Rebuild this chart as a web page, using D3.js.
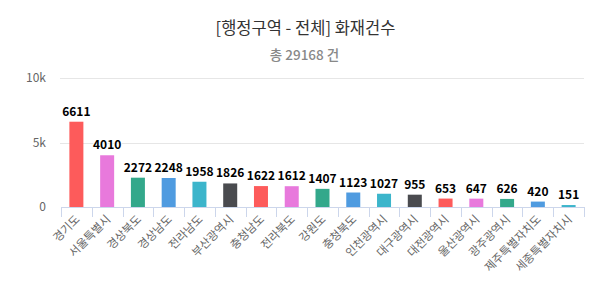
<!DOCTYPE html>
<html><head><meta charset="utf-8">
<script src="https://cdn.jsdelivr.net/npm/d3@7"></script>
<style>
body{margin:0;background:#fff;}
svg{display:block;font-family:"Noto Sans CJK KR","Noto Sans",sans-serif;}
</style></head>
<body>
<svg id="chart" width="607" height="308"></svg>
<script>
const categories = ["경기도","서울특별시","경상북도","경상남도","전라남도","부산광역시","충청남도","전라북도","강원도","충청북도","인천광역시","대구광역시","대전광역시","울산광역시","광주광역시","제주특별자치도","세종특별자치시"];
const values = [6611,4010,2272,2248,1958,1826,1622,1612,1407,1123,1027,955,653,647,626,420,151];
const palette = ["#fd5b5b","#e879dc","#33a88b","#4f9be0","#3cb5cb","#4a4b4f"];
const yTicks = [0,5000,10000];
const yTickLabels = ["0","5k","10k"];
const title = "[행정구역 - 전체] 화재건수";
const subtitle = "총 29168 건";

(function(){
const svg = d3.select("#chart");
const W = 607;
const pLeft = 61, pRight = 584, pTop = 78, pBottom = 207;

const x = d3.scaleBand().domain(categories).range([pLeft, pRight]).padding(0);
const y = d3.scaleLinear().domain([0, 10000]).range([pBottom, pTop]);
const barW = 14;

svg.append("text").attr("x", W/2 + 2).attr("y", 34).attr("text-anchor","middle")
  .attr("font-size", 16.5).attr("fill", "#333").text(title);
svg.append("text").attr("x", W/2 + 1).attr("y", 60).attr("text-anchor","middle")
  .attr("font-size", 13.5).attr("font-weight", 500).attr("fill", "#888").text(subtitle);

// grid
svg.append("g").selectAll("line").data(yTicks.filter(d => d > 0)).join("line")
  .attr("x1", pLeft - 1).attr("x2", pRight).attr("y1", d => Math.round(y(d)) + 0.5).attr("y2", d => Math.round(y(d)) + 0.5)
  .attr("stroke", "#e6e6e6").attr("stroke-width", 1);

// y labels
svg.append("g").selectAll("text").data(yTicks).join("text")
  .attr("x", 46).attr("y", d => y(d) + 4).attr("text-anchor", "end")
  .attr("font-size", 12).attr("fill", "#666").text((d, i) => yTickLabels[i]);

// bars
svg.append("g").selectAll("rect").data(values).join("rect")
  .attr("x", (d, i) => x(categories[i]) + (x.bandwidth() - barW) / 2)
  .attr("width", barW)
  .attr("y", d => y(d))
  .attr("height", d => y(0) - y(d))
  .attr("fill", (d, i) => palette[i % palette.length]);

// x axis
const xAxis = d3.axisBottom(x).tickSize(0).tickFormat("");
const gx = svg.append("g").attr("transform", `translate(0,${pBottom + 0.5})`).call(xAxis);
gx.select(".domain").attr("stroke", "#ccd6eb").attr("d", `M${pLeft},0H${pRight}`);
gx.selectAll(".tick").remove();
const bounds = categories.map(c => x(c)).concat([x(categories[categories.length-1]) + x.bandwidth()]);
svg.append("g").selectAll("line").data(bounds).join("line")
  .attr("x1", d => Math.round(d) + 0.5).attr("x2", d => Math.round(d) + 0.5)
  .attr("y1", pBottom).attr("y2", pBottom + 10).attr("stroke", "#ccd6eb");

svg.append("g").selectAll("text").data(categories).join("text")
  .attr("transform", c => `translate(${x(c) + x.bandwidth()/2 + 4},${pBottom + 13}) rotate(-45)`)
  .attr("text-anchor", "end").attr("font-size", 11.5).attr("fill", "#666").text(c => c);

// data labels
svg.append("g").selectAll("text").data(values).join("text")
  .attr("x", (d, i) => x(categories[i]) + x.bandwidth()/2)
  .attr("y", d => y(d) - 6)
  .attr("text-anchor", "middle").attr("font-size", 12).attr("font-weight", "bold")
  .attr("fill", "#000").attr("stroke", "#fff").attr("stroke-width", 2)
  .attr("stroke-linejoin", "round").attr("paint-order", "stroke")
  .text(d => d);
})();
</script>
</body></html>
